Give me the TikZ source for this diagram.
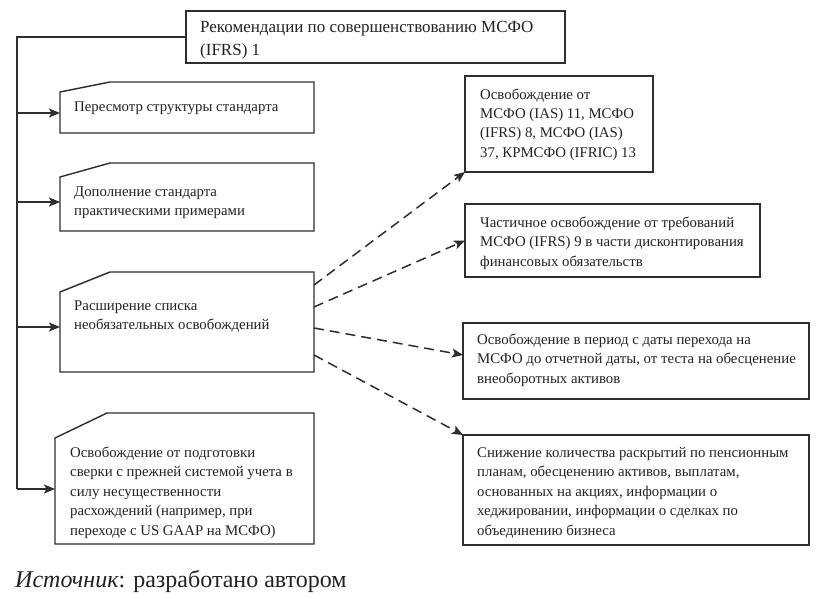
\documentclass[tikz,border=0pt]{standalone}
\usepackage{fontspec}
\setmainfont{Liberation Serif}
\usetikzlibrary{arrows.meta}
\definecolor{ln}{HTML}{2E2E2E}
\definecolor{tx}{HTML}{222222}
\tikzset{
  boxshape/.style={draw=ln, line width=1.4pt, inner sep=0pt, outer sep=0pt, anchor=north west},
  ghost/.style={draw=none, inner sep=0pt, outer sep=0pt, anchor=north west},
  txt/.style={text=tx, inner sep=0pt, anchor=base west, align=left, font=\fontsize{14.8}{19.5}\selectfont},
  bigtxt/.style={text=tx, inner sep=0pt, anchor=base west, align=left, font=\fontsize{17}{23.5}\selectfont},
  solidarrow/.style={draw=ln, line width=1.5pt, -{Stealth[length=11pt,width=9pt,inset=2.5pt]}},
  dasharrow/.style={draw=ln, line width=1.5pt, dash pattern=on 10pt off 6pt, -{Stealth[length=11pt,width=9pt,inset=2.5pt]}},
  outline/.style={draw=ln, line width=1.4pt}
}
\begin{document}
\begin{tikzpicture}[x=1pt,y=-1pt]
\useasboundingbox (0,0) rectangle (831,599);
% top box
\node[boxshape, minimum width=379pt, minimum height=52pt] (T) at (186,11) {};
\node[bigtxt] (tT) at (200,56) {Рекомендации по совершенствованию МСФО\\(IFRS) 1};
% left boxes (outline drawn with cut corner)
\node[ghost, minimum width=254pt, minimum height=51pt] (L1) at (60,82) {};
\node[ghost, minimum width=254pt, minimum height=68pt] (L2) at (60,163) {};
\node[ghost, minimum width=254pt, minimum height=100pt] (L3) at (60,272) {};
\node[ghost, minimum width=259pt, minimum height=131pt] (L4) at (55,413) {};
\draw[outline] ([yshift=-10pt]L1.north west) -- ([xshift=50pt]L1.north west) -- (L1.north east) -- (L1.south east) -- (L1.south west) -- cycle;
\draw[outline] ([yshift=-14pt]L2.north west) -- ([xshift=50pt]L2.north west) -- (L2.north east) -- (L2.south east) -- (L2.south west) -- cycle;
\draw[outline] ([yshift=-20pt]L3.north west) -- ([xshift=50pt]L3.north west) -- (L3.north east) -- (L3.south east) -- (L3.south west) -- cycle;
\draw[outline] ([yshift=-25pt]L4.north west) -- ([xshift=52pt]L4.north west) -- (L4.north east) -- (L4.south east) -- (L4.south west) -- cycle;
\node[txt] (t1) at (74,112) {Пересмотр структуры стандарта};
\node[txt] (t2) at (74,215.5) {Дополнение стандарта\\практическими примерами};
\node[txt] (t3) at (74,329.5) {Расширение списка\\необязательных освобождений};
\node[txt] (t4) at (70,535) {Освобождение от подготовки\\сверки с прежней системой учета в\\силу несущественности\\расхождений (например, при\\переходе с US GAAP на МСФО)};
% right boxes
\node[boxshape, minimum width=188pt, minimum height=96pt] (R1) at (465,76) {};
\node[boxshape, minimum width=295pt, minimum height=73pt] (R2) at (465,204) {};
\node[boxshape, minimum width=346pt, minimum height=76pt] (R3) at (463,323) {};
\node[boxshape, minimum width=346pt, minimum height=110pt] (R4) at (463,435) {};
\node[txt] (r1) at (480,157.5) {Освобождение от\\МСФО (IAS) 11, МСФО\\(IFRS) 8, МСФО (IAS)\\37, КРМСФО (IFRIC) 13};
\node[txt] (r2) at (480,266) {Частичное освобождение от требований\\МСФО (IFRS) 9 в части дисконтирования\\финансовых обязательств};
\node[txt] (r3) at (477,383) {Освобождение в период с даты перехода на\\МСФО до отчетной даты, от теста на обесценение\\внеоборотных активов};
\node[txt] (r4) at (477,535) {Снижение количества раскрытий по пенсионным\\планам, обесценению активов, выплатам,\\основанных на акциях, информации о\\хеджировании, информации о сделках по\\объединению бизнеса};
% spine
\coordinate (top) at (17,37);
\coordinate (bot) at (17,489);
\draw[outline] (T.west |- top) -- (top) -- (bot);
\draw[solidarrow] (top |- 0,113) -- (L1.west |- 0,113);
\draw[solidarrow] (top |- 0,202) -- (L2.west |- 0,202);
\draw[solidarrow] (top |- 0,327) -- (L3.west |- 0,327);
\draw[solidarrow] (bot) -- (L4.west |- bot);
% dashed arrows
\draw[dasharrow] (L3.east |- 0,285) -- (R1.south west);
\draw[dasharrow] (L3.east |- 0,307) -- (R2.west);
\draw[dasharrow] (L3.east |- 0,328) -- (R3.west |- 0,355);
\draw[dasharrow] (L3.east |- 0,355) -- (R4.north west);
% caption
\node[text=tx, inner sep=0pt, anchor=base west, font=\fontsize{24}{28}\selectfont] (cap) at (15,587) {\textit{Источник}: разработано автором};
\end{tikzpicture}
\end{document}
